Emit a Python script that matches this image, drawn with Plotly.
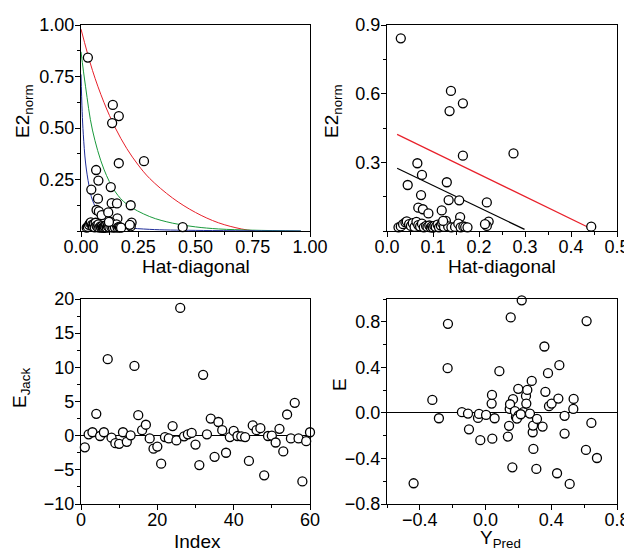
import plotly.graph_objects as go

# ---------------- data ----------------
# Williams-type data: leverage (hat diagonal) and normalised squared error
hat = [0.030, 0.139, 0.165, 0.136, 0.165, 0.275, 0.066, 0.076, 0.045, 0.130,
       0.074, 0.134, 0.157, 0.217, 0.068, 0.078, 0.090, 0.119, 0.159, 0.221,
       0.217, 0.444, 0.025, 0.030, 0.035, 0.040, 0.043, 0.048, 0.052, 0.056,
       0.060, 0.064, 0.068, 0.072, 0.076, 0.080, 0.085, 0.088, 0.092, 0.095,
       0.098, 0.100, 0.103, 0.106, 0.110, 0.113, 0.117, 0.120, 0.124, 0.128,
       0.133, 0.140, 0.148, 0.155, 0.160, 0.166, 0.170, 0.175, 0.213, 0.122]
e2norm = [0.842, 0.612, 0.558, 0.524, 0.329, 0.339, 0.296, 0.245, 0.201, 0.213,
          0.157, 0.135, 0.134, 0.125, 0.102, 0.095, 0.077, 0.090, 0.061, 0.041,
          0.022, 0.019, 0.016, 0.020, 0.030, 0.038, 0.042, 0.030, 0.022, 0.034,
          0.018, 0.040, 0.026, 0.020, 0.032, 0.016, 0.022, 0.018, 0.024, 0.016,
          0.020, 0.015, 0.022, 0.018, 0.028, 0.016, 0.024, 0.034, 0.018, 0.044,
          0.020, 0.016, 0.018, 0.032, 0.016, 0.020, 0.018, 0.016, 0.030, 0.044]

# threshold curves (panel 1)
red_h = [0.0, 0.05, 0.10, 0.15, 0.20, 0.25, 0.30, 0.40, 0.50, 0.60, 0.70, 0.76]
red_y = [0.98, 0.78, 0.625, 0.50, 0.40, 0.32, 0.255, 0.16, 0.09, 0.04, 0.01, 0.0]
green_h = [0.0, 0.02, 0.05, 0.10, 0.15, 0.20, 0.30, 0.40, 0.50, 0.60, 0.75, 0.96]
green_y = [0.87, 0.70, 0.49, 0.30, 0.19, 0.13, 0.07, 0.038, 0.02, 0.01, 0.004, 0.0]
blue_h = [0.0, 0.005, 0.01, 0.02, 0.035, 0.05, 0.08, 0.12, 0.20, 0.30, 0.50, 0.96]
blue_y = [0.76, 0.58, 0.47, 0.33, 0.22, 0.15, 0.085, 0.045, 0.018, 0.008, 0.003, 0.0]

# threshold lines (panel 2)
red_line_h = [0.022, 0.444]
red_line_y = [0.422, 0.010]
black_line_h = [0.022, 0.299]
black_line_y = [0.274, 0.007]

# Jackknife errors (panel 3)
index = list(range(1, 61))
e_jack = [-1.7, 0.2, 0.5, 3.2, -0.05, 0.5, 11.2, -0.3, -1.1, -1.2,
          0.5, -0.9, 0.05, 10.2, 3.0, 0.8, 1.6, -0.4, -1.9, -1.6,
          -4.1, -0.2, -0.4, 1.4, -0.7, 18.7, -0.1, 0.2, 0.4, -1.3,
          -4.3, 8.9, 0.2, 2.5, -3.1, 2.0, 0.8, -2.5, -0.2, 0.7,
          -0.05, -0.1, -0.2, -3.7, 1.5, 0.8, 1.1, -5.8, -0.05, 0.0,
          -1.0, 1.0, -2.3, 3.1, -0.4, 4.8, -0.4, -6.7, -0.8, 0.5]

# residuals vs predicted (panel 4)
y_pred = [-0.438, -0.324, -0.284, -0.229, -0.231, -0.144, -0.107, -0.101, -0.046, -0.040,
          -0.032, 0.003, 0.037, 0.039, 0.041, 0.055, 0.084, 0.136, 0.143, 0.147,
          0.153, 0.163, 0.167, 0.149, 0.185, 0.179, 0.199, 0.201, 0.230, 0.246,
          0.254, 0.248, 0.281, 0.270, 0.287, 0.289, 0.291, 0.309, 0.313, 0.347,
          0.358, 0.364, 0.380, 0.386, 0.402, 0.435, 0.443, 0.449, 0.481, 0.481,
          0.512, 0.536, 0.534, 0.611, 0.615, 0.644, 0.678, 0.220, 0.191, 0.214]
resid = [-0.618, 0.114, -0.047, 0.782, 0.393, 0.006, -0.006, -0.144, -0.044, -0.009,
         -0.240, -0.018, 0.082, 0.158, -0.226, -0.047, 0.366, -0.208, -0.114, 0.035,
         0.838, -0.478, 0.120, 0.076, -0.035, 0.015, 0.211, -0.023, 0.006, 0.149,
         0.202, 0.082, 0.281, -0.006, -0.170, -0.111, -0.316, -0.492, -0.053, -0.120,
         0.583, 0.185, 0.349, 0.059, 0.082, -0.530, 0.126, 0.419, -0.026, -0.182,
         -0.624, 0.123, 0.035, -0.325, 0.806, -0.088, -0.396, 0.988, -0.050, -0.012]

# ---------------- layout helpers ----------------
OFF = 8                      # default page body margin
W, H = 632 - OFF, 554 - OFF  # figure size so that it fits the window
FONT = "Liberation Sans, Arial, sans-serif"


def fx(px):
    return (px - OFF) / W


def fy(py):
    return 1 - (py - OFF) / H


marker = dict(symbol="circle", size=9, color="white",
              line=dict(color="black", width=1.3))

fig = go.Figure()

# panel 1
fig.add_trace(go.Scatter(x=red_h, y=red_y, mode="lines", line=dict(color="#e8202a", width=1, shape="spline"),
                         xaxis="x", yaxis="y", showlegend=False))
fig.add_trace(go.Scatter(x=green_h, y=green_y, mode="lines", line=dict(color="#1a9a3c", width=1, shape="spline"),
                         xaxis="x", yaxis="y", showlegend=False))
fig.add_trace(go.Scatter(x=blue_h, y=blue_y, mode="lines", line=dict(color="#1f2d9a", width=1, shape="spline"),
                         xaxis="x", yaxis="y", showlegend=False))
fig.add_trace(go.Scatter(x=hat, y=e2norm, mode="markers", marker=marker, cliponaxis=False,
                         xaxis="x", yaxis="y", showlegend=False))

# panel 2
fig.add_trace(go.Scatter(x=red_line_h, y=red_line_y, mode="lines", line=dict(color="#e8202a", width=1.2),
                         xaxis="x2", yaxis="y2", showlegend=False))
fig.add_trace(go.Scatter(x=black_line_h, y=black_line_y, mode="lines", line=dict(color="black", width=1.2),
                         xaxis="x2", yaxis="y2", showlegend=False))
fig.add_trace(go.Scatter(x=hat, y=e2norm, mode="markers", marker=marker, cliponaxis=False,
                         xaxis="x2", yaxis="y2", showlegend=False))

# panel 3
fig.add_trace(go.Scatter(x=index, y=e_jack, mode="markers", marker=marker, cliponaxis=False,
                         xaxis="x3", yaxis="y3", showlegend=False))

# panel 4
fig.add_trace(go.Scatter(x=y_pred, y=resid, mode="markers", marker=marker, cliponaxis=False,
                         xaxis="x4", yaxis="y4", showlegend=False))


def axis(domain, rng, dtick, minor_dtick, anchor, is_x, tickformat=None, tickvals=None, zeroline=False):
    a = dict(domain=domain, range=rng, anchor=anchor, showgrid=False, automargin=False,
             showline=True, linecolor="black", linewidth=1.3, mirror=True,
             ticks="outside", ticklen=5, tickwidth=1.2, tickcolor="black",
             ticklabelstandoff=-6 if is_x else -3,
             tickfont=dict(family=FONT, size=18, color="black"),
             minor=dict(dtick=minor_dtick, ticks="outside", ticklen=3, tickwidth=1, tickcolor="black", showgrid=False),
             zeroline=zeroline, zerolinecolor="black", zerolinewidth=1.2)
    if tickvals is not None:
        a["tickmode"] = "array"
        a["tickvals"] = tickvals
    else:
        a["dtick"] = dtick
        a["tick0"] = 0
    if tickformat:
        a["tickformat"] = tickformat
    return a


xd_left = [fx(81), fx(310)]
xd_right = [fx(387), fx(617)]
yd_top = [fy(231), fy(25)]
yd_bot = [fy(504), fy(299)]

fig.update_layout(
    width=W, height=H,
    margin=dict(l=0, r=0, t=0, b=0, autoexpand=False),
    paper_bgcolor="white", plot_bgcolor="white",
    font=dict(family=FONT, size=18, color="black"),
    xaxis=axis(xd_left, [0, 1.0], 0.25, 0.125, "y", True, ".2f"),
    yaxis=axis(yd_top, [0, 1.0], None, 0.125, "x", False, ".2f", tickvals=[0.25, 0.5, 0.75, 1.0]),
    xaxis2=axis(xd_right, [0, 0.5], 0.1, 0.05, "y2", True, ".1f"),
    yaxis2=axis(yd_top, [0, 0.9], None, 0.15, "x2", False, ".1f", tickvals=[0.3, 0.6, 0.9]),
    xaxis3=axis(xd_left, [0, 60], 20, 10, "y3", True),
    yaxis3=axis(yd_bot, [-10, 20], 5, 2.5, "x3", False, zeroline=True),
    xaxis4=axis(xd_right, [-0.6, 0.8], 0.4, 0.2, "y4", True, ".1f"),
    yaxis4=axis(yd_bot, [-0.8, 1.0], 0.4, 0.2, "x4", False, ".1f", zeroline=True),
)

TF = dict(family=FONT, size=19, color="black")
ann = [
    dict(text="Hat-diagonal", x=fx(196), y=fy(266)),
    dict(text="Hat-diagonal", x=fx(502), y=fy(266)),
    dict(text="Index", x=fx(197), y=fy(541)),
    dict(text="Y<sub>Pred</sub>", x=fx(500), y=fy(539)),
    dict(text="E2<sub>norm</sub>", x=fx(24), y=fy(111), textangle=-90),
    dict(text="E2<sub>norm</sub>", x=fx(333), y=fy(111), textangle=-90),
    dict(text="E<sub>Jack</sub>", x=fx(21), y=fy(388), textangle=-90),
    dict(text="E", x=fx(339), y=fy(385), textangle=-90),
]
for a in ann:
    a.update(xref="paper", yref="paper", showarrow=False, font=TF,
             xanchor="center", yanchor="middle")
fig.update_layout(annotations=ann)

fig.write_html("out.html")
